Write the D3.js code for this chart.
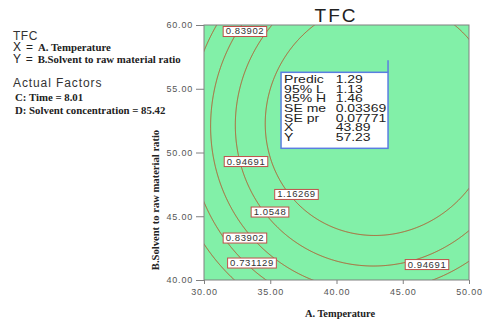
<!DOCTYPE html>
<html>
<head>
<meta charset="utf-8">
<script src="https://cdn.jsdelivr.net/npm/d3@7"></script>
<style>
  body { margin: 0; background: #ffffff; }
  svg { display: block; }
</style>
</head>
<body>
<svg id="chart" width="487" height="320"></svg>
<script>
// ---- chart content ----
const responseName = "TFC";
const xFactorName = "A. Temperature";
const yFactorName = "B.Solvent to raw material ratio";
const actualFactors = ["C: Time = 8.01", "D: Solvent concentration = 85.42"];

const xDomain = [30, 50];
const yDomain = [40, 60];
const xTicks = [30, 35, 40, 45, 50];
const yTicks = [40, 45, 50, 55, 60];

// contour levels drawn on the surface
const contourLevels = [0.731129, 0.83902, 0.94691, 1.0548, 1.16269];

// quadratic response surface in A and B (C, D held at the actual factors)
const stationaryPoint = [43.3, 52.7];      // A, B at the stationary point
const stationaryValue = 1.3462;            // TFC at the stationary point
const curvatureTerms = [0.002442, 0.002169, 0.0002169]; // A^2, B^2, A*B

// contour label placements: [level, A, B]
const contourLabels = [
  [0.83902, 33.09, 59.53],
  [0.94691, 33.17, 49.33],
  [1.16269, 36.98, 46.75],
  [1.0548, 34.98, 45.37],
  [0.83902, 33.09, 43.33],
  [0.731129, 33.62, 41.37],
  [0.94691, 46.83, 41.25]
];

// point prediction flag
const flagPoint = [43.89, 57.23];
const predictionNames = ["Predic", "95% L", "95% H", "SE me", "SE pr", "X", "Y"];
const predictionValues = ["1.29", "1.13", "1.46", "0.03369", "0.07771", "43.89", "57.23"];

// ---- layout ----
const plot = { left: 204, right: 469, top: 25, bottom: 280 };
const xs = d3.scaleLinear().domain(xDomain).range([plot.left, plot.right]);
const ys = d3.scaleLinear().domain(yDomain).range([plot.bottom, plot.top]);
const svg = d3.select("#chart");

const fillGreen = "rgb(130,240,168)";
const lineBrown = "#b35a2e";
const labelRed = "#c0504a";
const axisGray = "#808080";
const flagBlue = "#5a7ee0";
const sans = "Arial, 'Liberation Sans', sans-serif";
const serif = "'Liberation Serif', 'Times New Roman', serif";

function surface(a, b) {
  const u = a - stationaryPoint[0], v = b - stationaryPoint[1];
  return stationaryValue - curvatureTerms[0] * u * u - curvatureTerms[1] * v * v + curvatureTerms[2] * u * v;
}

// clip region for the plot
const defs = svg.append("defs");
defs.append("clipPath").attr("id", "plotClip")
  .append("rect")
  .attr("x", plot.left).attr("y", plot.top)
  .attr("width", plot.right - plot.left).attr("height", plot.bottom - plot.top);

// plot background
svg.append("rect")
  .attr("x", plot.left).attr("y", plot.top)
  .attr("width", plot.right - plot.left).attr("height", plot.bottom - plot.top)
  .attr("fill", fillGreen);

// sample the surface on a grid a little larger than the plot
const step = 0.05;
const gx0 = xDomain[0] - 1, gx1 = xDomain[1] + 1;
const gyTop = yDomain[1] + 1, gyBot = yDomain[0] - 1;
const nx = Math.round((gx1 - gx0) / step) + 1;
const ny = Math.round((gyTop - gyBot) / step) + 1;
const grid = new Float64Array(nx * ny);
for (let j = 0; j < ny; j++) {
  for (let i = 0; i < nx; i++) {
    grid[j * nx + i] = surface(gx0 + i * step, gyTop - j * step);
  }
}
const contours = d3.contours().size([nx, ny]).thresholds(contourLevels)(grid);
const toPixels = d3.geoTransform({
  point: function (gx, gy) {
    this.stream.point(xs(gx0 + (gx - 0.5) * step), ys(gyTop - (gy - 0.5) * step));
  }
});
const path = d3.geoPath(toPixels);

svg.append("g").attr("clip-path", "url(#plotClip)")
  .selectAll("path")
  .data(contours)
  .join("path")
  .attr("d", path)
  .attr("fill", "none")
  .attr("stroke", lineBrown)
  .attr("stroke-width", 1);

// plot frame
svg.append("rect")
  .attr("x", plot.left).attr("y", plot.top)
  .attr("width", plot.right - plot.left).attr("height", plot.bottom - plot.top)
  .attr("fill", "none").attr("stroke", axisGray).attr("stroke-width", 1);

// contour labels
const labelG = svg.append("g");
contourLabels.forEach(([level, a, b]) => {
  const g = labelG.append("g");
  const t = g.append("text")
    .attr("x", xs(a)).attr("y", ys(b) + 3.5)
    .attr("text-anchor", "middle")
    .attr("font-family", sans)
    .attr("font-size", 9.5)
    .attr("letter-spacing", 0.6)
    .attr("fill", "#333")
    .text(String(level));
  const w = t.node().getComputedTextLength();
  g.insert("rect", "text")
    .attr("x", xs(a) - w / 2 - 2.5).attr("y", ys(b) - 4.5)
    .attr("width", w + 5).attr("height", 10)
    .attr("fill", "#ffffff").attr("stroke", labelRed).attr("stroke-width", 1);
});

// axes
const tickFmt = d3.format(".2f");
const yAxis = svg.append("g").attr("transform", `translate(${plot.left},0)`)
  .call(d3.axisLeft(ys).tickValues(yTicks).tickFormat(tickFmt).tickSize(8).tickPadding(3));
const xAxis = svg.append("g").attr("transform", `translate(0,${plot.bottom})`)
  .call(d3.axisBottom(xs).tickValues(xTicks).tickFormat(tickFmt).tickSize(4).tickPadding(5));
[yAxis, xAxis].forEach(ax => {
  ax.select(".domain").remove();
  ax.selectAll(".tick line").attr("stroke", axisGray);
  ax.selectAll(".tick text")
    .attr("fill", "#555")
    .attr("font-family", sans)
    .attr("font-size", 9)
    .attr("letter-spacing", 0.8);
});

// axis titles
svg.append("text")
  .attr("x", 340).attr("y", 317)
  .attr("text-anchor", "middle")
  .attr("font-family", serif)
  .attr("font-weight", "bold").attr("font-size", 10.4)
  .attr("fill", "#222")
  .text(xFactorName);
svg.append("text")
  .attr("transform", "translate(159,200) rotate(-90)")
  .attr("text-anchor", "middle")
  .attr("font-family", serif)
  .attr("font-weight", "bold").attr("font-size", 10.6)
  .attr("fill", "#222")
  .text(yFactorName);

// chart title
svg.append("text")
  .attr("x", 336).attr("y", 22)
  .attr("text-anchor", "middle")
  .attr("font-family", sans)
  .attr("font-size", 19).attr("letter-spacing", 2)
  .attr("fill", "#222")
  .text(responseName);

// legend block on the left
svg.append("text").attr("x", 13).attr("y", 40)
  .attr("font-family", sans).attr("font-size", 12).attr("letter-spacing", 0.5)
  .attr("fill", "#333").text(responseName);
const xRow = svg.append("text").attr("x", 13).attr("y", 51).attr("fill", "#222");
xRow.append("tspan").attr("font-family", sans).attr("font-size", 12).attr("letter-spacing", 0.8).text("X = ");
xRow.append("tspan").attr("font-family", serif).attr("font-weight", "bold").attr("font-size", 10.8).attr("letter-spacing", 0).text(xFactorName);
const yRow = svg.append("text").attr("x", 13).attr("y", 63).attr("fill", "#222");
yRow.append("tspan").attr("font-family", sans).attr("font-size", 12).attr("letter-spacing", 0.8).text("Y = ");
yRow.append("tspan").attr("font-family", serif).attr("font-weight", "bold").attr("font-size", 10.8).attr("letter-spacing", 0).text(yFactorName);
svg.append("text").attr("x", 13).attr("y", 87)
  .attr("font-family", sans).attr("font-size", 12).attr("letter-spacing", 0.9)
  .attr("fill", "#333").text("Actual Factors");
actualFactors.forEach((s, i) => {
  svg.append("text").attr("x", 15).attr("y", 101 + i * 12.5)
    .attr("font-family", serif).attr("font-weight", "bold").attr("font-size", 10.8)
    .attr("fill", "#222").text(s);
});

// prediction flag and box
const fx = xs(flagPoint[0]), fy = ys(flagPoint[1]);
const box = { w: 107, h: 76, drop: 12 };
const bx = fx - box.w, by = fy + box.drop;
defs.append("clipPath").attr("id", "boxClip")
  .append("rect").attr("x", bx).attr("y", by).attr("width", box.w).attr("height", box.h);
svg.append("line")
  .attr("x1", fx).attr("x2", fx).attr("y1", fy).attr("y2", by)
  .attr("stroke", flagBlue).attr("stroke-width", 1.5);
svg.append("rect")
  .attr("x", bx).attr("y", by).attr("width", box.w).attr("height", box.h)
  .attr("fill", "#ffffff");
const boxText = svg.append("g").attr("clip-path", "url(#boxClip)")
  .append("g").attr("transform", `translate(${bx},${by}) scale(1.4,1)`);
predictionNames.forEach((name, i) => {
  const yy = 10.5 + i * 9.7;
  boxText.append("text").attr("x", 2.2).attr("y", yy)
    .attr("font-family", sans).attr("font-size", 10)
    .attr("fill", "#222").text(name);
  boxText.append("text").attr("x", 39).attr("y", yy)
    .attr("font-family", sans).attr("font-size", 10)
    .attr("fill", "#222").text(predictionValues[i]);
});
svg.append("rect")
  .attr("x", bx).attr("y", by).attr("width", box.w).attr("height", box.h)
  .attr("fill", "none").attr("stroke", flagBlue).attr("stroke-width", 1.5);
</script>
</body>
</html>
